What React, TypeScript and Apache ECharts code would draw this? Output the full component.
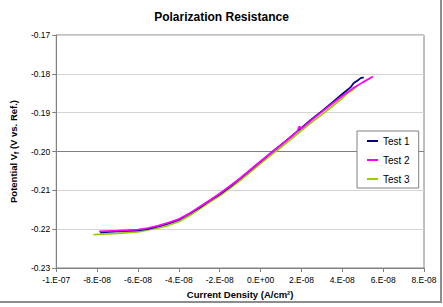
import React, { useEffect, useRef } from "react";
import * as echarts from "echarts";

// Polarization scans: current density (A/cm²) vs. potential Vf (V vs. Ref.)
const test1Current = [-7.85e-8, -7.0e-8, -6.0e-8, -5.5e-8, -5.0e-8, -4.5e-8, -4.0e-8, -3.5e-8, -3.0e-8, -2.5e-8, -2.0e-8, -1.5e-8, -1.0e-8, -0.5e-8, 0, 0.5e-8, 1.0e-8, 1.5e-8, 2.0e-8, 2.5e-8, 3.0e-8, 3.5e-8, 4.0e-8, 4.4e-8, 4.55e-8, 4.75e-8, 4.9e-8, 5.05e-8];
const test1Potential = [-0.2208, -0.2206, -0.2203, -0.2199, -0.2193, -0.2185, -0.2176, -0.2161, -0.2145, -0.2127, -0.2110, -0.2091, -0.2070, -0.2048, -0.2026, -0.2004, -0.1983, -0.1961, -0.1939, -0.1917, -0.1896, -0.1874, -0.1852, -0.1835, -0.1824, -0.1817, -0.1811, -0.1809];

const test2Current = [-7.9e-8, -7.0e-8, -6.0e-8, -5.5e-8, -5.0e-8, -4.5e-8, -4.0e-8, -3.5e-8, -3.0e-8, -2.5e-8, -2.0e-8, -1.5e-8, -1.0e-8, -0.5e-8, 0, 0.5e-8, 1.0e-8, 1.5e-8, 1.8e-8, 1.9e-8, 2.0e-8, 2.5e-8, 3.0e-8, 3.5e-8, 4.0e-8, 4.5e-8, 5.0e-8, 5.5e-8];
const test2Potential = [-0.2206, -0.2204, -0.2201, -0.2197, -0.2191, -0.2183, -0.2174, -0.2160, -0.2143, -0.2126, -0.2108, -0.2089, -0.2069, -0.2047, -0.2025, -0.2004, -0.1983, -0.1962, -0.1948, -0.1935, -0.1941, -0.1919, -0.1898, -0.1877, -0.1857, -0.1838, -0.1822, -0.1807];

const test3Current = [-8.18e-8, -7.0e-8, -6.0e-8, -5.5e-8, -5.0e-8, -4.5e-8, -4.0e-8, -3.5e-8, -3.0e-8, -2.5e-8, -2.0e-8, -1.5e-8, -1.0e-8, -0.5e-8, 0, 0.5e-8, 1.0e-8, 1.5e-8, 2.0e-8, 2.5e-8, 3.0e-8, 3.5e-8, 4.0e-8, 4.3e-8, 4.5e-8, 4.77e-8];
const test3Potential = [-0.2214, -0.2211, -0.2207, -0.2202, -0.2197, -0.2190, -0.2181, -0.2166, -0.2149, -0.2131, -0.2114, -0.2095, -0.2075, -0.2053, -0.2031, -0.2010, -0.1989, -0.1968, -0.1946, -0.1925, -0.1905, -0.1884, -0.1863, -0.1848, -0.1842, -0.1829];

const seriesNames = ["Test 1", "Test 2", "Test 3"];
const seriesColors = ["#000080", "#ff00ff", "#99cc00"];

// x-axis range and step (A/cm²)
const currentMin = -1e-7;
const currentMax = 8e-8;
const currentStep = 2e-8;
// y-axis range and step (V)
const potentialMin = -0.23;
const potentialMax = -0.17;
const potentialStep = 0.01;
const referencePotential = -0.2;

// work on the x-axis in units of 1e-8 A/cm² to keep tick arithmetic exact
const X_UNIT = 1e-8;

const FONT = "'Liberation Sans', Arial, sans-serif";

function excelSci(v: number): string {
  const real = Math.round(v) * X_UNIT;
  if (real === 0) return "0.E+00";
  const exp = Math.floor(Math.log10(Math.abs(real)) + 1e-9);
  const mant = Math.round(real / Math.pow(10, exp));
  const sign = exp < 0 ? "-" : "+";
  const e = String(Math.abs(exp)).padStart(2, "0");
  return `${mant}.E${sign}${e}`;
}

function pairs(xs: number[], ys: number[]): number[][] {
  return xs.map((x, i) => [x / X_UNIT, ys[i]]);
}

export default function App() {
  const ref = useRef<HTMLDivElement>(null);

  useEffect(() => {
    if (!ref.current) return;
    const chart = echarts.init(ref.current, undefined, { renderer: "svg" });
    const datasets = [
      pairs(test1Current, test1Potential),
      pairs(test2Current, test2Potential),
      pairs(test3Current, test3Potential),
    ];
    const zOrder = [3, 4, 2];

    chart.setOption({
      animation: false,
      backgroundColor: "#ffffff",
      textStyle: { fontFamily: FONT },
      title: {
        text: "Polarization Resistance",
        left: "center",
        top: 6,
        textStyle: { fontFamily: FONT, fontSize: 12, fontWeight: "bold", color: "#000" },
      },
      grid: {
        left: 39,
        right: 19,
        top: 35,
        bottom: 39,
        show: true,
        borderColor: "#808080",
        borderWidth: 1,
        backgroundColor: "#ffffff",
      },
      legend: {
        data: seriesNames,
        orient: "vertical",
        left: 357,
        top: 131,
        padding: [4, 9, 3, 10],
        itemGap: 7,
        itemWidth: 11,
        itemHeight: 2,
        icon: "rect",
        backgroundColor: "#ffffff",
        borderColor: "#808080",
        borderWidth: 1,
        borderRadius: 0,
        textStyle: { fontFamily: FONT, fontSize: 10, color: "#000", lineHeight: 12 },
      },
      xAxis: {
        type: "value",
        min: currentMin / X_UNIT,
        max: currentMax / X_UNIT,
        interval: currentStep / X_UNIT,
        name: "Current Density (A/cm²)",
        nameLocation: "middle",
        nameGap: 21,
        nameTextStyle: { fontFamily: FONT, fontSize: 9.5, fontWeight: "bold", color: "#000" },
        axisLine: { show: true, onZero: false, lineStyle: { color: "#808080", width: 1 } },
        axisTick: { show: true, inside: false, length: 4, lineStyle: { color: "#808080" } },
        axisLabel: {
          margin: 7,
          fontFamily: FONT,
          fontSize: 8.5,
          color: "#000",
          formatter: (v: number) => excelSci(v),
        },
        splitLine: { show: false },
      },
      yAxis: {
        type: "value",
        min: potentialMin,
        max: potentialMax,
        interval: potentialStep,
        name: "{b|Potential V}{s|f}{b| (V vs. Ref.)}",
        nameLocation: "middle",
        nameGap: 24,
        nameTextStyle: {
          fontFamily: FONT,
          color: "#000",
          rich: {
            b: {
              fontFamily: FONT,
              fontSize: 9.5,
              fontWeight: "bold",
              color: "#000",
              lineHeight: 14,
            },
            s: {
              fontFamily: FONT,
              fontSize: 6.5,
              fontWeight: "bold",
              color: "#000",
              lineHeight: 8,
              verticalAlign: "bottom",
            },
          },
        },
        axisLine: { show: true, onZero: false, lineStyle: { color: "#808080", width: 1 } },
        axisTick: { show: true, inside: false, length: 4, lineStyle: { color: "#808080" } },
        axisLabel: {
          margin: 6,
          fontFamily: FONT,
          fontSize: 8.5,
          color: "#000",
          formatter: (v: number) => v.toFixed(2),
        },
        splitLine: { show: true, lineStyle: { color: "#d4d4d4", width: 1 } },
      },
      series: datasets.map((data, i) => ({
        name: seriesNames[i],
        type: "line",
        data,
        z: zOrder[i],
        showSymbol: false,
        symbol: "none",
        smooth: false,
        color: seriesColors[i],
        lineStyle: { color: seriesColors[i], width: 1.75 },
        markLine:
          i === 0
            ? {
                silent: true,
                symbol: "none",
                label: { show: false },
                lineStyle: { color: "#808080", width: 1, type: "solid" },
                data: [{ yAxis: referencePotential }],
                z: 1,
              }
            : undefined,
      })),
      graphic: [
        {
          type: "line",
          shape: { x1: 441, y1: 0, x2: 441, y2: 302 },
          style: { stroke: "#8c8c8c", lineWidth: 2 },
        },
        {
          type: "line",
          shape: { x1: 0, y1: 302, x2: 442, y2: 302 },
          style: { stroke: "#8c8c8c", lineWidth: 2 },
        },
      ],
    });

    return () => chart.dispose();
  }, []);

  return (
    <div
      ref={ref}
      style={{ position: "fixed", left: 0, top: 0, width: 443, height: 307 }}
    />
  );
}
